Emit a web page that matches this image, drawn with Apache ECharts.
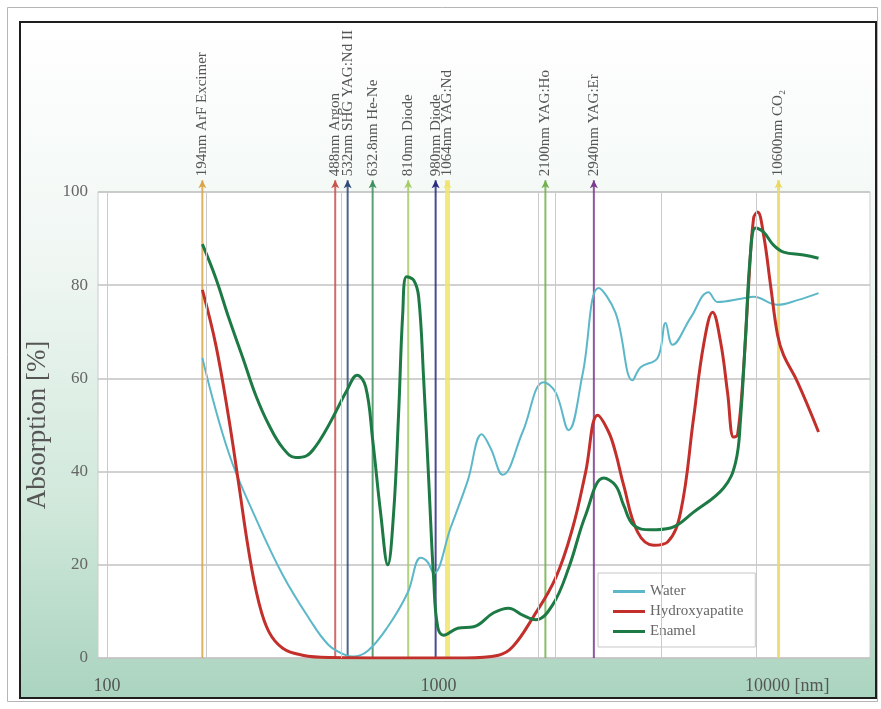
<!DOCTYPE html>
<html>
<head>
<meta charset="utf-8">
<script src="https://cdn.jsdelivr.net/npm/echarts/dist/echarts.min.js"></script>
<style>
  html, body { margin: 0; padding: 0; background: #ffffff; }
  #chart { width: 881px; height: 709px; }
</style>
</head>
<body>
<div id="chart"></div>
<script>
// Absorption spectra [wavelength nm, absorption %]
const waterData = [
  [194, 64.4], [233, 44], [281, 30], [339, 17.8], [406, 8.6], [466, 2.8], [525, 0.6],
  [551, 0.3], [611, 1.5], [703, 6.7], [807, 14], [883, 21.5], [927, 20.6], [967, 18.2],
  [1088, 28], [1224, 38], [1350, 48], [1436, 45], [1561, 39.3], [1793, 48.5], [2075, 59.2],
  [2255, 57], [2468, 48.9], [2720, 61], [3039, 79.4], [3420, 74], [3848, 59.6], [4068, 62.4],
  [4576, 64.4], [4838, 71.9], [5078, 67.2], [5754, 73], [6522, 78.5], [6940, 76.4],
  [8316, 77.2], [8913, 77.5], [10527, 75.8], [12093, 76.8], [13990, 78.3]
];

const hydroxyapatiteData = [
  [194, 79], [213, 67.2], [233, 51.5], [250, 37.1], [268, 22.7], [287, 12], [308, 5.6],
  [339, 2.1], [389, 0.6], [466, 0.1], [800, 0], [1200, 0], [1518, 0.6], [1673, 2.4],
  [1922, 8.6], [2255, 17.2], [2537, 27.9], [2777, 39.9], [3018, 52.1], [3258, 48.5],
  [3420, 44], [3615, 37.1], [3985, 27], [4452, 24.2], [4906, 24.9], [5370, 31.3],
  [5876, 51.5], [6299, 67.2], [6706, 74.2], [7088, 67.8], [7438, 57], [7756, 47.4],
  [7975, 47.9], [8316, 62.2], [8609, 80], [8913, 94.4], [9162, 95.7], [9553, 90.8],
  [10027, 80], [10527, 69.3], [10976, 65], [12093, 59.2], [13990, 48.5]
];

const enamelData = [
  [194, 88.8], [213, 81.5], [233, 73], [257, 64.4], [281, 56.4], [308, 50], [339, 45.1],
  [371, 43], [400, 43.4], [425, 45.3], [455, 48.6], [484, 52.1], [530, 57.5], [568, 60.7],
  [603, 58.2], [633, 46.8], [669, 31.1], [703, 20], [732, 31.1], [758, 52.6], [780, 74],
  [801, 81.8], [841, 81.1], [871, 77.5], [902, 59.7], [934, 38.2], [967, 16.7], [994, 6.7],
  [1036, 4.9], [1142, 6.4], [1276, 6.7], [1466, 9.7], [1627, 10.7], [1793, 9.2], [1962, 8.2],
  [2208, 11.4], [2468, 19.3], [2777, 30.7], [3147, 38.6], [3420, 37], [3615, 32.8],
  [3875, 28.5], [4361, 27.5], [5008, 27.9], [5876, 31.3], [7237, 36.5], [7866, 42],
  [8144, 51.5], [8431, 69.3], [8730, 87.1], [9036, 92.3], [9553, 91.4], [10237, 88.6],
  [10976, 87.1], [12612, 86.5], [13990, 85.8]
];

// Laser emission wavelengths and their labels
const laserNm = [194, 488, 532, 632.8, 810, 980, 1064, 2100, 2940, 10600];
const laserNames = [
  '194nm ArF Excimer', '488nm Argon', '532nm SHG YAG:Nd II', '632.8nm He-Ne',
  '810nm Diode', '980nm Diode', '1064nm YAG:Nd', '2100nm YAG:Ho', '2940nm YAG:Er',
  '10600nm CO₂'
];

// Axis ticks
const xTicks = [100, 1000, 10000];
const yTicks = [0, 20, 40, 60, 80, 100];
const vGrid = [100, 200, 510, 2000, 2250, 4700, 9100];

// Styles
const laserColors = ['#d9a446', '#c9524c', '#2f4a78', '#3f8f5e', '#a6cc66', '#2b2a82',
                     '#f2e46a', '#72b04e', '#7b3b8c', '#ead95e'];
const laserWidths = [2, 2, 2, 2, 2, 2, 5, 2, 2, 3];
const FONT = '"Liberation Serif", "DejaVu Serif", serif';
const LASER_TOP = 102.5;

const chart = echarts.init(document.getElementById('chart'), null, { renderer: 'canvas' });

const series = [];

// faint vertical reference lines
series.push({
  type: 'line', name: 'vgrid', data: [], silent: true, z: 0,
  markLine: {
    silent: true, symbol: 'none', animation: false,
    label: { show: false },
    lineStyle: { color: '#cacaca', width: 1, type: 'solid' },
    data: vGrid.map(v => ({ xAxis: v }))
  }
});

laserNm.forEach((nm, i) => {
  series.push({
    type: 'line', name: laserNames[i], z: 1, clip: false, silent: true,
    lineStyle: { color: laserColors[i], width: laserWidths[i], opacity: 0.85 },
    itemStyle: { color: laserColors[i] },
    data: [
      { value: [nm, 0], symbol: 'none' },
      {
        value: [nm, LASER_TOP], symbol: 'arrow', symbolSize: [6, 8],
        label: {
          show: true, formatter: laserNames[i], position: 'top', rotate: 90,
          align: 'left', verticalAlign: 'middle', distance: 4,
          fontFamily: FONT, fontSize: 15, color: '#555'
        }
      }
    ]
  });
});

const curves = [
  { name: 'Water', data: waterData, color: '#5cb8c8', width: 2 },
  { name: 'Hydroxyapatite', data: hydroxyapatiteData, color: '#c3302b', width: 3 },
  { name: 'Enamel', data: enamelData, color: '#1d7a45', width: 3 }
];
curves.forEach(c => {
  series.push({
    type: 'line', name: c.name, data: c.data, z: 3,
    smooth: 0.4, showSymbol: false, symbol: 'none',
    lineStyle: { color: c.color, width: c.width },
    itemStyle: { color: c.color }
  });
});

const option = {
  animation: false,
  backgroundColor: '#ffffff',
  graphic: [
    {
      type: 'rect', z: -10, silent: true,
      shape: { x: 7.5, y: 7.5, width: 870, height: 694 },
      style: { fill: '#ffffff', stroke: '#b5b5b5', lineWidth: 1 }
    },
    {
      type: 'rect', z: -9, silent: true,
      shape: { x: 20, y: 22, width: 856, height: 676 },
      style: {
        fill: new echarts.graphic.LinearGradient(0, 0, 0, 1, [
          { offset: 0, color: '#ffffff' },
          { offset: 0.35, color: '#f0f7f3' },
          { offset: 0.7, color: '#d2e9dc' },
          { offset: 1, color: '#aad4bf' }
        ]),
        stroke: '#1e1e1e', lineWidth: 2
      }
    }
  ],
  grid: {
    left: 98, right: 11, top: 192, bottom: 51,
    show: true, backgroundColor: '#ffffff', borderColor: '#cccccc', borderWidth: 1
  },
  legend: {
    data: curves.map(c => c.name),
    orient: 'vertical', left: 598, top: 573,
    backgroundColor: '#ffffff', borderColor: '#c8c8c8', borderWidth: 1, borderRadius: 0,
    padding: [11, 12, 8, 15], itemGap: 5, itemWidth: 32, itemHeight: 3, icon: 'rect',
    textStyle: { fontFamily: FONT, fontSize: 15, color: '#666' }
  },
  xAxis: {
    type: 'log', logBase: 10, min: 94, max: 20000,
    axisLine: { show: false }, axisTick: { show: false }, splitLine: { show: false },
    axisLabel: {
      margin: 19, fontFamily: FONT, fontSize: 18, color: '#555',
      showMinLabel: false, showMaxLabel: false,
      formatter: v => {
        const r = Math.round(v);
        if (!xTicks.includes(r)) return '';
        return r === 10000 ? '{s| }' + r + ' [nm]' : String(r);
      },
      rich: { s: { width: 34 } }
    }
  },
  yAxis: {
    type: 'value', min: yTicks[0], max: yTicks[yTicks.length - 1], interval: 20,
    name: 'Absorption [%]', nameLocation: 'middle', nameGap: 46,
    nameTextStyle: { fontFamily: FONT, fontSize: 27, color: '#555' },
    axisLine: { show: false }, axisTick: { show: false },
    splitLine: { lineStyle: { color: '#c2c2c2', width: 1.5 } },
    axisLabel: { margin: 10, fontFamily: FONT, fontSize: 17, color: '#666' }
  },
  series: series
};

chart.setOption(option);
</script>
</body>
</html>
